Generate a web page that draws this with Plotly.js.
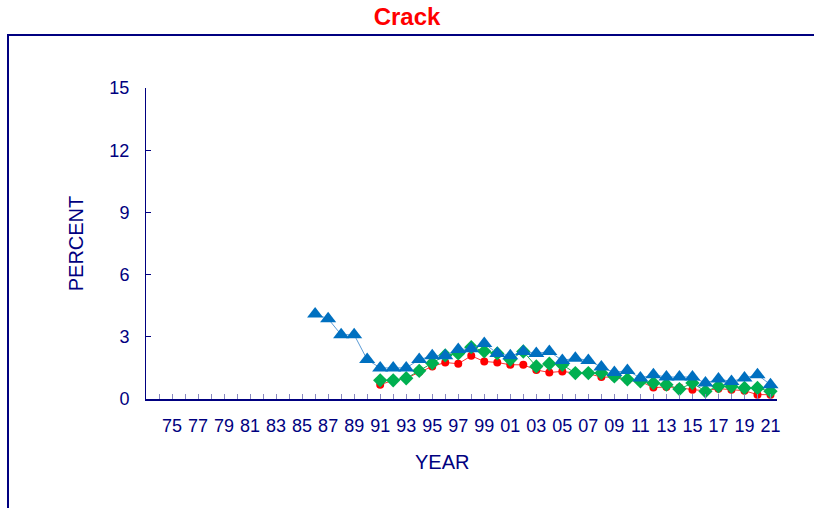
<!DOCTYPE html>
<html>
<head>
<meta charset="utf-8">
<script src="https://cdn.plot.ly/plotly-3.0.1.min.js"></script>
<style>
  html, body { margin: 0; padding: 0; background: #fff; }
  #chart { width: 814px; height: 508px; }
</style>
</head>
<body>
<div id="chart"></div>
<script>
// Years for each series
const blueYears = [1986,1987,1988,1989,1990,1991,1992,1993,1994,1995,1996,1997,1998,1999,2000,2001,2002,2003,2004,2005,2006,2007,2008,2009,2010,2011,2012,2013,2014,2015,2016,2017,2018,2019,2020,2021];
const blueValues = [4.1,3.87,3.1,3.1,1.9,1.5,1.5,1.5,1.9,2.08,2.08,2.39,2.42,2.68,2.2,2.08,2.29,2.2,2.29,1.86,1.97,1.86,1.54,1.28,1.38,1.01,1.17,1.06,1.06,1.06,0.77,0.96,0.85,1.01,1.17,0.69];

const otherYears = [1991,1992,1993,1994,1995,1996,1997,1998,1999,2000,2001,2002,2003,2004,2005,2006,2007,2008,2009,2010,2011,2012,2013,2014,2015,2016,2017,2018,2019,2020,2021];
const greenValues = [0.9,0.9,1.0,1.36,1.73,2.1,2.2,2.5,2.3,2.2,1.9,2.29,1.57,1.7,1.65,1.25,1.25,1.25,1.09,0.95,0.85,0.77,0.69,0.48,0.77,0.37,0.61,0.6,0.53,0.53,0.37];
const redValues = [0.69,0.9,1.0,1.3,1.57,1.76,1.7,2.08,1.81,1.76,1.65,1.65,1.4,1.28,1.33,1.25,1.22,1.06,1.05,0.9,0.85,0.55,0.58,0.55,0.45,0.4,0.5,0.45,0.4,0.21,0.21];

// Axis ticks
const tickYears = [1974,1975,1976,1977,1978,1979,1980,1981,1982,1983,1984,1985,1986,1987,1988,1989,1990,1991,1992,1993,1994,1995,1996,1997,1998,1999,2000,2001,2002,2003,2004,2005,2006,2007,2008,2009,2010,2011,2012,2013,2014,2015,2016,2017,2018,2019,2020,2021];
const tickLabels = ['','75','','77','','79','','81','','83','','85','','87','','89','','91','','93','','95','','97','','99','','01','','03','','05','','07','','09','','11','','13','','15','','17','','19','','21'];
const yTicks = [0,3,6,9,12,15];

const navy = '#000080';
const font = 'Liberation Sans, Arial, sans-serif';

const traces = [
  {
    x: otherYears, y: redValues, type: 'scatter', mode: 'lines+markers',
    line: {color: '#ff3030', width: 1},
    marker: {symbol: 'circle', size: 8, color: '#ff0000'},
    showlegend: false, cliponaxis: false
  },
  {
    x: otherYears, y: greenValues, type: 'scatter', mode: 'lines+markers',
    line: {color: '#20b050', width: 1},
    marker: {symbol: 'diamond', size: 11, color: '#00b050'},
    showlegend: false, cliponaxis: false
  },
  {
    x: blueYears, y: blueValues, type: 'scatter', mode: 'lines+markers',
    line: {color: '#5b9bd5', width: 1},
    marker: {symbol: 'triangle-up', size: 14, color: '#0070c0'},
    showlegend: false, cliponaxis: false
  }
];

const layout = {
  width: 814, height: 508,
  margin: {l: 146, r: 37, t: 88, b: 109},
  paper_bgcolor: '#ffffff', plot_bgcolor: '#ffffff',
  title: {
    text: '<b>Crack</b>',
    font: {family: font, size: 24, color: '#ff0000'},
    x: 0.5, xref: 'container', xanchor: 'center',
    y: 1 - 17/508, yref: 'container', yanchor: 'middle'
  },
  xaxis: {
    range: [1973, 2021.5],
    tickmode: 'array', tickvals: tickYears, ticktext: tickLabels,
    ticks: 'inside', ticklen: 5, tickcolor: '#8888c0', tickwidth: 1,
    showline: true, linecolor: navy, linewidth: 2,
    showgrid: false, zeroline: false,
    tickfont: {family: font, size: 18, color: navy},
    ticklabelstandoff: 9
  },
  yaxis: {
    range: [0, 15],
    tickmode: 'array', tickvals: yTicks,
    ticks: 'inside', ticklen: 5, tickcolor: navy, tickwidth: 1,
    showline: true, linecolor: navy, linewidth: 1,
    showgrid: false, zeroline: false,
    tickfont: {family: font, size: 18, color: navy},
    ticklabelstandoff: 12,
    title: {text: 'PERCENT', font: {family: font, size: 20, color: navy}, standoff: 20}
  },
  annotations: [
    {
      text: 'YEAR', xref: 'paper', yref: 'paper',
      x: (442 - 146) / 631, y: (399 - 462) / 311,
      xanchor: 'center', yanchor: 'middle', showarrow: false,
      font: {family: font, size: 20, color: navy}
    }
  ],
  shapes: [
    {
      type: 'rect', xref: 'paper', yref: 'paper', layer: 'below',
      x0: (8 - 146) / 631, x1: (830 - 146) / 631,
      y0: (399 - 530) / 311, y1: (399 - 35) / 311,
      line: {color: navy, width: 2}, fillcolor: 'rgba(0,0,0,0)'
    }
  ]
};

Plotly.newPlot('chart', traces, layout, {staticPlot: true, displayModeBar: false});
</script>
</body>
</html>
